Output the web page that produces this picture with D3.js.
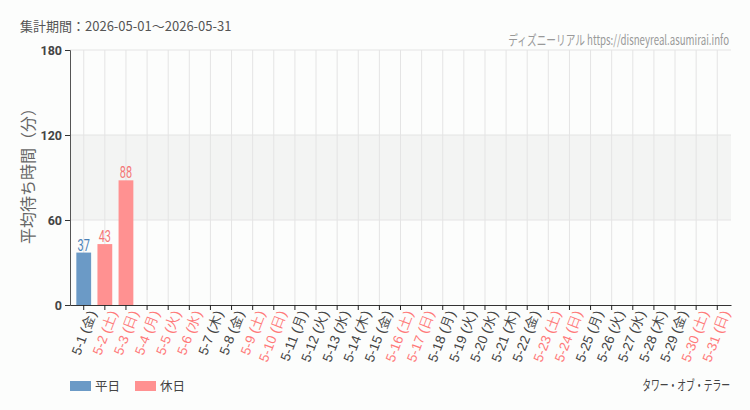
<!DOCTYPE html>
<html>
<head>
<meta charset="utf-8">
<script src="https://cdn.jsdelivr.net/npm/d3@7"></script>
<style>
  body { margin: 0; background: #fcfdfc; }
  svg { display: block; font-family: "Noto Sans CJK JP", "Noto Sans", sans-serif; }
</style>
</head>
<body>
<div id="chart"></div>
<script>
// データ
const days = ['5-1', '5-2', '5-3', '5-4', '5-5', '5-6', '5-7', '5-8', '5-9', '5-10',
    '5-11', '5-12', '5-13', '5-14', '5-15', '5-16', '5-17', '5-18', '5-19', '5-20',
    '5-21', '5-22', '5-23', '5-24', '5-25', '5-26', '5-27', '5-28', '5-29', '5-30', '5-31'];
const weekdays = ['金', '土', '日', '月', '火', '水', '木', '金', '土', '日',
    '月', '火', '水', '木', '金', '土', '日', '月', '火', '水',
    '木', '金', '土', '日', '月', '火', '水', '木', '金', '土', '日'];
const holidays = ['5-2', '5-3', '5-4', '5-5', '5-6', '5-9', '5-10', '5-16', '5-17',
    '5-23', '5-24', '5-30', '5-31'];
const waitTimes = [37, 43, 88, null, null, null, null, null, null, null,
    null, null, null, null, null, null, null, null, null, null,
    null, null, null, null, null, null, null, null, null, null, null];
const yTicks = [0, 60, 120, 180];

const W = 750, H = 410;
const margin = { top: 50, right: 19, bottom: 105, left: 70 };

const colWeekday = '#6b9ac6';
const colHoliday = '#ff9191';
const txtWeekday = '#4a80b6';
const txtHoliday = '#f47676';

const svg = d3.select('#chart').append('svg').attr('width', W).attr('height', H);

const x = d3.scaleBand().domain(days).range([margin.left, W - margin.right]).padding(0.3);
const y = d3.scaleLinear().domain([0, 180]).range([H - margin.bottom, margin.top]);

const isHoliday = (d) => holidays.includes(d);

// 右寄せで横幅を詰めたテキスト（元画像のコンデンス書体の代わり）
const narrowRight = (right, baseline, str, width, size, color) => {
    const t = svg.append('text')
        .attr('font-size', size).attr('fill', color)
        .attr('text-anchor', 'end')
        .text(str);
    const sx = Math.min(1, width / t.node().getComputedTextLength());
    t.attr('transform', `translate(${right},${baseline}) scale(${sx},1)`);
    return t;
};

// 60〜120 の帯
svg.append('rect')
    .attr('x', margin.left).attr('width', W - margin.right - margin.left)
    .attr('y', y(120)).attr('height', y(60) - y(120))
    .attr('fill', '#f3f4f3');

// グリッド
svg.append('g').selectAll('line').data(days).join('line')
    .attr('x1', d => x(d) + x.bandwidth() / 2).attr('x2', d => x(d) + x.bandwidth() / 2)
    .attr('y1', y(180)).attr('y2', y(0))
    .attr('stroke', '#e4e4e4');
svg.append('g').selectAll('line').data(yTicks.slice(1)).join('line')
    .attr('x1', margin.left).attr('x2', W - margin.right)
    .attr('y1', d => y(d)).attr('y2', d => y(d))
    .attr('stroke', '#e4e4e4');

// 棒
const barData = days.map((d, i) => ({ day: d, v: waitTimes[i] })).filter(d => d.v != null);
svg.append('g').selectAll('rect').data(barData).join('rect')
    .attr('x', d => x(d.day)).attr('width', x.bandwidth())
    .attr('y', d => y(d.v)).attr('height', d => y(0) - y(d.v))
    .attr('fill', d => isHoliday(d.day) ? colHoliday : colWeekday);

svg.append('g').selectAll('text').data(barData).join('text')
    .attr('transform', d => `translate(${x(d.day) + x.bandwidth() / 2},${y(d.v) - 2}) scale(0.68,1)`)
    .attr('text-anchor', 'middle')
    .attr('font-family', 'Roboto, sans-serif')
    .attr('font-size', 16)
    .attr('fill', d => isHoliday(d.day) ? txtHoliday : txtWeekday)
    .text(d => d.v);

// Y軸
const yAxis = svg.append('g')
    .attr('transform', `translate(${margin.left},0)`)
    .call(d3.axisLeft(y).tickValues(yTicks).tickSize(5).tickPadding(3));
yAxis.select('.domain').attr('stroke', '#555');
yAxis.selectAll('.tick line').attr('stroke', '#333');
yAxis.selectAll('.tick text')
    .attr('font-size', 12.5).attr('font-weight', 'bold').attr('fill', '#444')
    .attr('font-family', 'Roboto, "Noto Sans", sans-serif');

// X軸
const xAxis = svg.append('g')
    .attr('transform', `translate(0,${y(0)})`)
    .call(d3.axisBottom(x).tickSize(5).tickSizeOuter(0).tickFormat((d, i) => d + ' (' + weekdays[i] + ')'));
xAxis.select('.domain').attr('stroke', '#333');
xAxis.selectAll('.tick line').attr('stroke', '#222');
xAxis.selectAll('.tick text')
    .attr('font-size', 13.5)
    .attr('fill', d => isHoliday(d) ? '#ff7a7a' : '#444')
    .attr('text-anchor', 'end')
    .attr('dx', '-0.2em').attr('dy', '0.5em')
    .attr('transform', 'rotate(-69)');

// 軸ラベル
svg.append('text')
    .attr('transform', `translate(34,172) rotate(-90)`)
    .attr('text-anchor', 'middle')
    .attr('font-size', 16).attr('fill', '#666')
    .text('平均待ち時間（分）');

// ヘッダー
svg.append('text')
    .attr('x', 20).attr('y', 31)
    .attr('font-size', 13).attr('fill', '#555')
    .text('集計期間：2026-05-01～2026-05-31');

narrowRight(729, 45, 'ディズニーリアル https://disneyreal.asumirai.info', 221, 13.5, '#999');

// 凡例
const legend = [
    { label: '平日', color: colWeekday },
    { label: '休日', color: colHoliday }
];
const lg = svg.append('g').selectAll('g').data(legend).join('g')
    .attr('transform', (d, i) => `translate(${70 + i * 65},381)`);
lg.append('rect').attr('width', 21).attr('height', 10).attr('fill', d => d.color);
lg.append('text').attr('x', 25).attr('y', 9.5)
    .attr('font-size', 12.5).attr('fill', '#444')
    .text(d => d.label);

narrowRight(730, 390, 'タワー・オブ・テラー', 88, 13.5, '#444');
</script>
</body>
</html>
